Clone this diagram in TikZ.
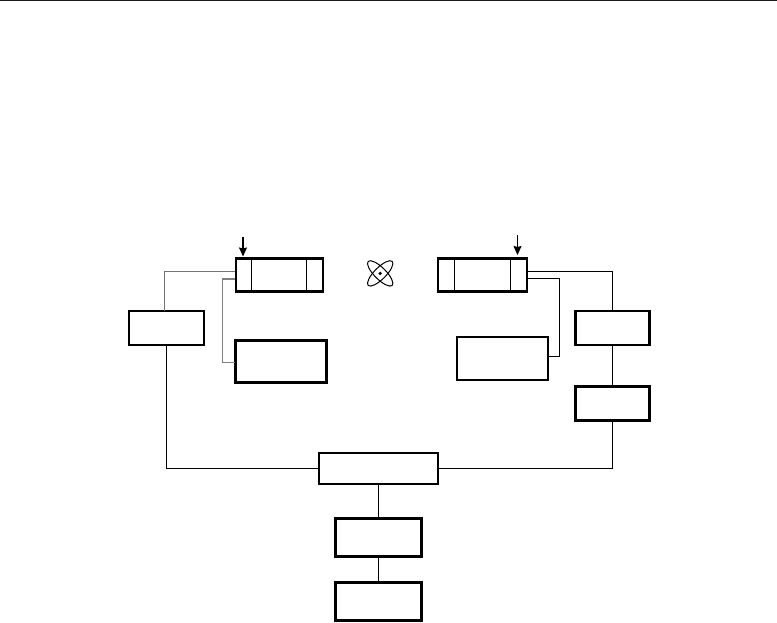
\documentclass[tikz,border=0pt]{standalone}
\usetikzlibrary{arrows.meta}
\tikzset{
  boxn/.style={draw=black,line width=2.4pt,fill=none,outer sep=0pt,inner sep=0pt},
  wire/.style={draw=black,line width=1.1pt},
  greywire/.style={draw=black!55,line width=1.1pt},
  greywirethick/.style={draw=black!50,line width=1.4pt},
  divider/.style={draw=black,line width=1.1pt},
  feed/.style={draw=black,line width=1.1pt,-{Stealth[length=9pt,width=8pt,inset=1pt]}},
  orbit/.style={draw=black,line width=1pt}
}
\begin{document}
\begin{tikzpicture}[x=1pt,y=-1pt]
\useasboundingbox (0,0) rectangle (777,622);
\fill[black!90] (0,0) rectangle (777,1);
% boxes
\node[boxn,minimum width=87pt,minimum height=33pt] (m1) at (279.5,275) {};
\node[boxn,minimum width=89pt,minimum height=33pt] (m2) at (482.5,275) {};
\node[boxn,minimum width=75pt,minimum height=34pt] (left) at (166.5,328) {};
\node[boxn,minimum width=91pt,minimum height=42pt] (lower) at (281,361.5) {};
\node[boxn,minimum width=91pt,minimum height=43pt] (rlower) at (502.5,358.5) {};
\node[boxn,minimum width=74pt,minimum height=34pt] (r1) at (612.5,328) {};
\node[boxn,minimum width=74pt,minimum height=34pt] (r2) at (612.5,403.5) {};
\node[boxn,minimum width=119pt,minimum height=31pt] (center) at (378.5,468.5) {};
\node[boxn,minimum width=86pt,minimum height=38pt] (b1) at (378.5,537.5) {};
\node[boxn,minimum width=86pt,minimum height=38pt] (b2) at (378.5,601.5) {};
% dividers
\draw[divider] (251.5,275 |- m1.north) -- (251.5,275 |- m1.south);
\draw[divider] (306.5,275 |- m1.north) -- (306.5,275 |- m1.south);
\draw[divider] (454.5,275 |- m2.north) -- (454.5,275 |- m2.south);
\draw[divider] (510.5,275 |- m2.north) -- (510.5,275 |- m2.south);
% connector ends
\coordinate (m1a) at (235,271.5);
\coordinate (m1b) at (235,279);
\coordinate (m2a) at (527,271.5);
\coordinate (m2b) at (527,278.5);
\coordinate (lowerw) at (235,362.5);
\coordinate (rlowere) at (547,356.5);
\coordinate (turnl) at (222.5,279);
\coordinate (turnr) at (559.5,278.5);
\coordinate (lefttop) at (164.7,311);
\coordinate (feedla) at (243,237);
\coordinate (feedlb) at (243,256.5);
\coordinate (feedra) at (517.5,235);
\coordinate (feedrb) at (517.5,255);
% connectors
\draw[greywire] (lefttop) |- (m1a);
\draw[greywirethick] (m1b) -- (turnl) |- (lowerw);
\draw[wire] (m2a) -| (r1.north);
\draw[wire] (m2b) -- (turnr) |- (rlowere);
\draw[wire] (r1.south) -- (r2.north);
\draw[wire] (left.south) |- (center.west);
\draw[wire] (r2.south) |- (center.east);
\draw[wire] (center.south) -- (b1.north);
\draw[wire] (b1.south) -- (b2.north);
\draw[feed] (feedla) -- (feedlb);
\draw[feed] (feedra) -- (feedrb);
% atom symbol
\draw[orbit,rotate around={45:(380.2,273.4)}] (380.2,273.4) ellipse [x radius=17pt,y radius=5.8pt];
\draw[orbit,rotate around={-45:(380.2,273.4)}] (380.2,273.4) ellipse [x radius=17pt,y radius=5.8pt];
\fill (380.2,273.4) circle [radius=1.8pt];
\end{tikzpicture}
\end{document}
